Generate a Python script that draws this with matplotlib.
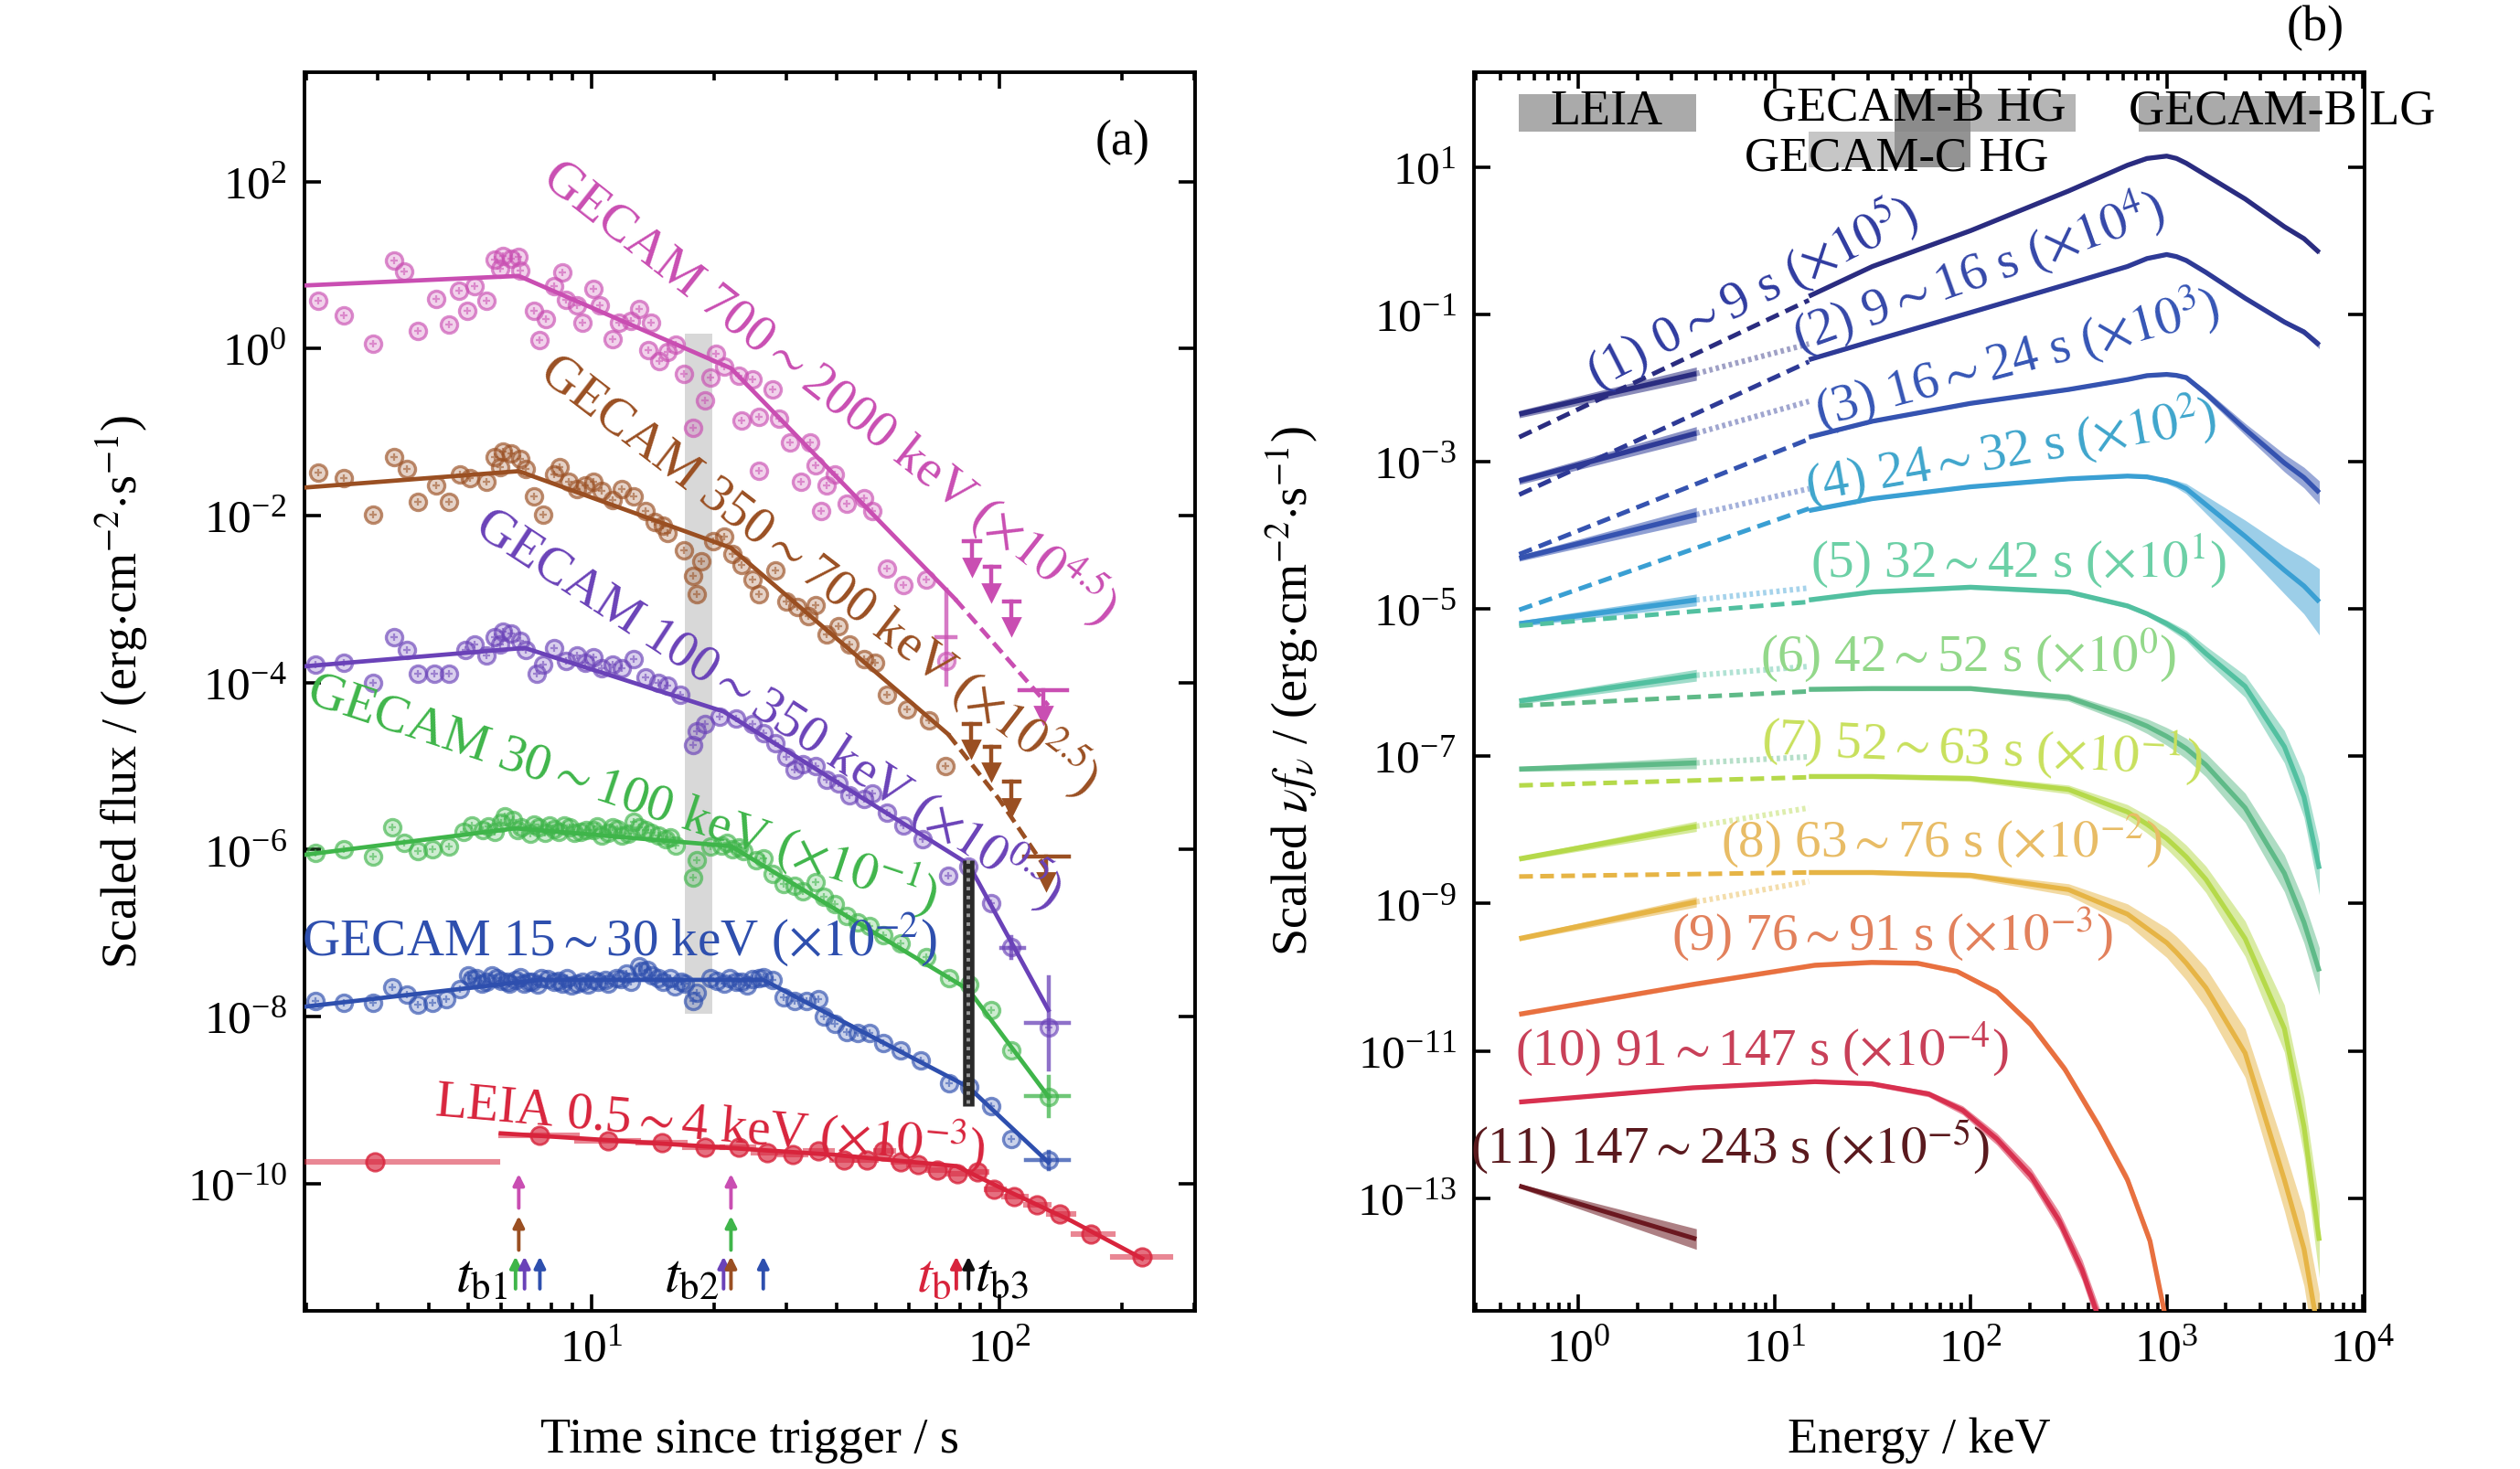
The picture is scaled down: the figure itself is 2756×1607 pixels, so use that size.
import numpy as np
import matplotlib.pyplot as plt
from matplotlib.ticker import NullLocator, NullFormatter, LogLocator
from matplotlib.colors import to_rgba

plt.rcParams['font.family'] = 'serif'
plt.rcParams['font.serif'] = ['Liberation Serif', 'DejaVu Serif']
plt.rcParams['mathtext.fontset'] = 'stix'
plt.rcParams['axes.linewidth'] = 1.4

# ---------------- panel (a): light curves (time in s, scaled flux) ----------------
mag_t = [2.14, 2.47, 2.92, 3.28, 3.47, 3.76, 4.16, 4.48, 4.73, 4.97, 5.18, 5.52, 5.79, 6.07, 6.37, 6.64,
         5.97, 6.68, 7.24, 7.73, 7.48, 8.11, 8.51, 8.65, 9.21, 9.51, 10.1, 10.5, 11.3, 11.7, 12.5, 13.1,
         14.0, 13.8, 14.7, 15.4, 16.1, 16.9, 17.8, 19.0, 19.6, 20.2, 21.2, 23.0, 23.3, 24.9, 25.7, 25.7,
         27.9, 28.8, 30.7, 32.7, 34.4, 35.5, 36.6, 37.8, 39.6, 42.3, 46.6, 48.9, 53.0, 58.2, 66.2, 74.1]
mag_f = [3.74, 2.51, 1.14, 11.2, 8.3, 1.62, 3.97, 1.92, 4.94, 2.86, 5.57, 3.74, 11.5, 12.7, 11.9, 12.4,
         9.0, 8.6, 2.86, 2.23, 1.25, 5.62, 8.1, 3.85, 3.32, 2.02, 5.2, 3.32, 1.29, 2.02, 2.12, 3.0,
         2.02, 0.95, 0.71, 0.91, 1.11, 0.50, 0.112, 0.237, 0.45, 0.865, 0.61, 0.476, 0.137, 0.43, 0.151, 0.034,
         0.32, 0.144, 0.0755, 0.0252, 0.0755, 0.0395, 0.0114, 0.0229, 0.0308, 0.0139, 0.0161, 0.0114,
         0.00231, 0.00148, 0.00171, 1.82e-4]
mag_ul_t = [85.7, 95.8, 107, 128]
mag_ul_f = [4.9e-3, 2.43e-3, 9.4e-4, 8.2e-5]
mag_ul_lo = [82, 92, 103, 112]
mag_ul_hi = [90, 100, 112, 147]

brn_t = [2.14, 2.47, 2.92, 3.28, 3.53, 3.76, 4.16, 4.48, 4.77, 5.05, 5.52, 5.79, 6.07, 6.37, 6.68, 5.97,
         6.90, 7.24, 7.60, 8.11, 8.38, 8.79, 9.21, 9.66, 10.1, 10.6, 11.3, 11.9, 12.7, 13.6, 14.3, 15.0,
         15.4, 16.9, 17.8, 18.1, 18.6, 19.9, 21.2, 22.2, 23.3, 24.9, 25.7, 28.2, 30.0, 32.0, 34.0, 35.4,
         37.8, 40.3, 43.0, 46.6, 49.6, 53.0, 59.4, 67.3, 73.7]
brn_f = [0.0324, 0.0279, 0.0103, 0.0507, 0.0357, 0.0146, 0.0229, 0.0146, 0.0308, 0.0279, 0.0252, 0.0507,
         0.0588, 0.056, 0.0482, 0.0376, 0.0357, 0.0169, 0.0103, 0.0308, 0.0376, 0.0252, 0.0207, 0.0229,
         0.0252, 0.0197, 0.0153, 0.0207, 0.0169, 0.0114, 0.00844, 0.00764, 0.00626, 0.0038, 0.00189,
         0.00115, 0.00282, 0.00488, 0.00566, 0.00344, 0.00255, 0.00171, 0.00115, 0.0022, 9.4e-4, 8.1e-4,
         6.3e-4, 8.5e-4, 3.8e-4, 4.7e-4, 2.86e-4, 1.92e-4, 1.73e-4, 7.1e-5, 4.75e-5, 3.56e-5, 1.0e-5]
brn_ul_t = [85.5, 95.7, 107, 130]
brn_ul_f = [3.2e-5, 1.7e-5, 6.5e-6, 8.3e-7]
brn_ul_lo = [82, 92, 103, 115]
brn_ul_hi = [90, 100, 112, 148]

pur_t = [2.11, 2.47, 2.92, 3.28, 3.53, 3.76, 4.13, 4.48, 4.91, 5.18, 5.52, 5.79, 6.07, 6.37, 6.68, 5.97,
         6.90, 7.36, 7.60, 8.11, 8.65, 9.21, 9.66, 10.1, 10.6, 11.3, 11.9, 12.7, 13.6, 14.6, 15.4, 16.5,
         17.8, 18.1, 19.0, 20.6, 22.6, 24.9, 26.5, 28.2, 30.0, 31.5, 33.0, 35.4, 37.8, 40.3, 43.0, 46.6,
         48.9, 53.0, 58.2, 65.0, 75.0, 84.0, 95.7, 107, 132]
pur_f = [1.65e-4, 1.73e-4, 1.0e-4, 3.48e-4, 2.46e-4, 1.29e-4, 1.29e-4, 1.29e-4, 2.46e-4, 2.85e-4, 2.12e-4,
         3.48e-4, 4.05e-4, 3.85e-4, 3.15e-4, 2.85e-4, 2.46e-4, 1.29e-4, 1.65e-4, 2.58e-4, 1.82e-4, 2.12e-4,
         1.73e-4, 2.01e-4, 1.49e-4, 1.65e-4, 1.49e-4, 1.92e-4, 1.16e-4, 1.0e-4, 9.1e-5, 7.1e-5, 1.79e-5,
         2.59e-5, 3.2e-5, 3.95e-5, 3.75e-5, 3.2e-5, 2.45e-5, 1.88e-5, 1.3e-5, 8.95e-6, 1.05e-5, 9.95e-6,
         6.87e-6, 6.18e-6, 4.5e-6, 4.05e-6, 4.74e-6, 2.79e-6, 1.93e-6, 1.33e-6, 4.85e-7, 6.3e-7, 2.31e-7,
         6.8e-8, 7.4e-9]

grn_t = [2.11, 2.47, 2.92, 3.25, 3.47, 3.76, 4.07, 4.48, 4.86, 5.09, 5.41, 5.79, 6.15, 6.44, 6.74, 7.07,
         7.42, 7.92, 8.31, 8.87, 9.43, 10.1, 10.6, 11.3, 11.9, 12.7, 13.6, 14.6, 15.2, 16.1, 17.8, 18.1,
         19.6, 20.9, 22.2, 23.6, 25.3, 26.5, 27.9, 29.6, 31.5, 33.0, 35.4, 37.1, 39.6, 42.3, 45.0, 48.0,
         52.0, 57.3, 66.2, 75.3, 84.3, 95.7, 107, 132,
         5.6, 6.0, 6.6, 7.25, 7.7, 8.1, 8.6, 9.1, 9.7, 10.35, 11.0, 11.6, 12.3, 13.1, 14.0, 15.6, 21.5, 23.0]
grn_f = [9.2e-7, 1.02e-6, 8.3e-7, 1.83e-6, 1.2e-6, 9.7e-7, 1.02e-6, 1.08e-6, 1.64e-6, 1.93e-6, 1.73e-6,
         1.64e-6, 2.51e-6, 2.26e-6, 1.83e-6, 1.56e-6, 1.83e-6, 1.93e-6, 1.64e-6, 1.83e-6, 1.64e-6, 1.73e-6,
         1.48e-6, 1.83e-6, 1.48e-6, 2.14e-6, 1.73e-6, 1.48e-6, 1.33e-6, 1.13e-6, 4.6e-7, 7.4e-7, 1.08e-6,
         1.13e-6, 1.02e-6, 9.7e-7, 7.4e-7, 7.8e-7, 5.1e-7, 3.9e-7, 3.7e-7, 3.2e-7, 4.1e-7, 2.7e-7, 2.2e-7,
         1.6e-7, 1.36e-7, 1.22e-7, 9.4e-8, 7.6e-8, 5.2e-8, 2.9e-8, 2.4e-8, 1.19e-8, 3.9e-9, 1.1e-9,
         1.9e-6, 2.1e-6, 1.7e-6, 2.0e-6, 1.6e-6, 1.75e-6, 1.95e-6, 1.6e-6, 1.7e-6, 1.9e-6, 1.6e-6,
         1.75e-6, 1.55e-6, 1.85e-6, 1.6e-6, 1.4e-6, 1.2e-6, 1.05e-6]

blu_t = [2.11, 2.47, 2.92, 3.25, 3.53, 3.76, 4.07, 4.41, 4.77, 5.00, 5.23, 5.52, 5.86, 6.22, 6.53, 6.84,
         7.18, 7.54, 8.11, 8.51, 8.93, 9.50, 10.1, 10.8, 11.5, 12.2, 13.1, 13.7, 14.6, 15.6, 16.6, 17.8,
         18.1, 19.6, 21.2, 22.6, 24.1, 25.7, 27.9, 29.6, 31.5, 33.7, 36.0, 37.1, 39.6, 42.3, 45.0, 48.0,
         52.0, 57.3, 64.2, 75.3, 84.3, 95.7, 107, 132,
         5.1, 5.4, 5.7, 6.0, 6.3, 6.7, 7.0, 7.4, 7.8, 8.3, 8.7, 9.2, 9.8, 10.4, 11.0, 11.8, 12.5, 13.3,
         14.1, 15.0, 16.0, 17.0, 20.3, 21.8, 23.3, 24.8, 26.5]
blu_f = [1.55e-8, 1.47e-8, 1.47e-8, 2.24e-8, 1.82e-8, 1.39e-8, 1.47e-8, 1.63e-8, 2.13e-8, 3.08e-8, 2.92e-8,
         2.63e-8, 2.92e-8, 2.63e-8, 2.77e-8, 2.49e-8, 2.63e-8, 2.92e-8, 2.63e-8, 2.49e-8, 2.37e-8, 2.63e-8,
         2.77e-8, 2.77e-8, 2.92e-8, 3.25e-8, 4.0e-8, 3.6e-8, 2.92e-8, 2.92e-8, 2.63e-8, 1.55e-8, 1.91e-8,
         2.92e-8, 2.49e-8, 2.63e-8, 2.37e-8, 2.92e-8, 2.77e-8, 1.72e-8, 1.55e-8, 1.55e-8, 1.63e-8, 1.01e-8,
         8.2e-9, 6.6e-9, 6.3e-9, 6.3e-9, 4.8e-9, 3.9e-9, 3.0e-9, 1.58e-9, 1.43e-9, 8.4e-10, 3.4e-10, 1.9e-10,
         2.8e-8, 2.5e-8, 3.1e-8, 2.7e-8, 2.5e-8, 3.0e-8, 2.6e-8, 2.4e-8, 2.8e-8, 2.7e-8, 2.9e-8, 2.5e-8,
         2.4e-8, 2.6e-8, 2.5e-8, 2.8e-8, 2.6e-8, 3.5e-8, 3.1e-8, 2.6e-8, 2.3e-8, 2.5e-8, 2.7e-8, 2.9e-8,
         2.6e-8, 2.8e-8, 3.0e-8]

# late GECAM bins with visible error bars (t, t_lo, t_hi, f_lo, f_hi)
late_pur = [(132, 116, 148, 2.3e-9, 3.0e-8), (107, 101, 115, 5.0e-8, 9.0e-8)]
late_grn = [(132, 116, 148, 6.5e-10, 1.9e-9)]
late_blu = [(132, 116, 148, 1.5e-10, 2.4e-10)]
late_mag = [(74.1, 70, 78, 9.5e-5, 1.3e-3)]

red_t = [2.95, 7.48, 11.0, 14.9, 19.0, 23.0, 27.0, 31.2, 36.0, 41.6, 47.3, 52.1, 57.3, 63.1, 70.6, 79.0,
         88.3, 97.3, 109, 124, 141, 168, 224]
red_f = [1.8e-10, 3.8e-10, 3.24e-10, 3.07e-10, 2.75e-10, 2.75e-10, 2.35e-10, 2.23e-10, 2.48e-10, 1.9e-10,
         1.9e-10, 2.48e-10, 1.8e-10, 1.71e-10, 1.46e-10, 1.31e-10, 1.38e-10, 8.6e-11, 6.95e-11, 5.6e-11,
         4.3e-11, 2.5e-11, 1.34e-11]
red_lo = [1.9, 6.0, 9.2, 13, 17, 21, 25, 29, 33.5, 39, 44.5, 50, 55, 60, 67, 75, 84, 93, 103, 116, 132, 152, 190]
red_hi = [5.9, 9.2, 13, 17, 21, 25, 29, 33.5, 39, 44.5, 50, 55, 60, 67, 75, 84, 93, 103, 116, 132, 152, 190, 263]

# broken power-law fits (nodes)
fit_mag_t, fit_mag_f = [2, 6.64, 22, 78], [5.7, 7.4, 0.58, 1.0e-3]
dash_mag_t, dash_mag_f = [78, 132], [1.0e-3, 5.3e-5]
fit_brn_t, fit_brn_f = [2, 6.64, 22, 75], [0.0217, 0.034, 4.1e-3, 2.4e-5]
dash_brn_t, dash_brn_f = [75, 100, 130], [2.4e-5, 4.0e-6, 6.0e-7]
fit_pur_t, fit_pur_f = [2, 6.86, 21.1, 84.1, 132], [1.57e-4, 2.6e-4, 4.5e-5, 6.7e-7, 1.2e-8]
fit_grn_t, fit_grn_f = [2, 6.52, 22, 84.1, 132], [8.7e-7, 1.8e-6, 1.1e-6, 2.1e-8, 1.1e-9]
fit_blu_t, fit_blu_f = [2, 7.48, 26.4, 84.1, 132], [1.32e-8, 2.75e-8, 2.75e-8, 1.43e-9, 1.8e-10]
fit_red_t = [6.0, 20, 40, 78.5, 100, 150, 224]
fit_red_f = [4.0e-10, 2.75e-10, 2.2e-10, 1.62e-10, 9.1e-11, 3.6e-11, 1.27e-11]

# break-time arrows: time, row (0 top .. 2 bottom), colour key
arrow_t = [6.64, 6.64, 6.52, 6.86, 7.48, 22.0, 22.0, 21.1, 22.0, 26.4, 78.5, 84.1]
arrow_row = [0, 1, 2, 2, 2, 0, 1, 2, 2, 2, 2, 2]
arrow_key = ['mag', 'brn', 'grn', 'pur', 'blu', 'mag', 'grn', 'pur', 'brn', 'blu', 'red', 'blk']
row_tail = [5.1e-11, 1.6e-11, 5.5e-12]
row_head = [1.31e-10, 4.1e-11, 1.34e-11]

col = {'mag': '#c94eb2', 'brn': '#9a4f22', 'pur': '#6a42b8', 'grn': '#3fb54a',
       'blu': '#2e4fae', 'red': '#d8243c', 'blk': '#111111'}

# ---------------- panel (b): spectra, log10 of scaled nuF_nu ----------------
leia_E = [0.5, 4.0]
bridge_E = [4.0, 15.0]
extrap_E = [0.5, 15.0]
leia_log = [[-2.354, -1.804], [-3.260, -2.613], [-4.311, -3.718], [-5.200, -4.877],
            [-6.25, -5.90], [-7.174, -7.090], [-8.394, -7.951], [-9.477, -8.977]]
leia_w = [[0.05, 0.09], [0.05, 0.09], [0.04, 0.10], [0.04, 0.08],
          [0.04, 0.08], [0.03, 0.08], [0.03, 0.07], [0.03, 0.07]]
bridge_log = [[-1.804, -1.40], [-2.613, -2.181], [-3.718, -3.367], [-4.877, -4.715],
              [-5.90, -5.78], [-7.090, -7.007], [-7.951, -7.701], [-8.977, -8.700]]
extrap_log = [[-2.667, -0.807], [-3.448, -1.642], [-4.257, -2.694], [-5.012, -3.637],
              [-5.227, -4.904], [-6.313, -6.119], [-7.396, -7.285], [-8.633, -8.578]]

gecam_E = [15, 31.6, 100, 316, 631, 794, 1000, 1122, 1259, 1585, 2512, 3981, 5012, 6000]
gecam_log = [
    [-0.753, -0.349, 0.137, 0.676, 1.026, 1.118, 1.150, 1.118, 1.053, 0.891, 0.568, 0.191, 0.029, -0.160],
    [-1.615, -1.362, -0.974, -0.586, -0.349, -0.241, -0.187, -0.215, -0.268, -0.429, -0.780, -1.103, -1.238,
     -1.416],
    [-2.667, -2.451, -2.208, -2.020, -1.885, -1.831, -1.815, -1.828, -1.858, -2.074, -2.559, -3.017, -3.216,
     -3.421],
    [-3.664, -3.502, -3.341, -3.233, -3.195, -3.206, -3.26, -3.305, -3.367, -3.583, -4.014, -4.473, -4.688,
     -4.904],
    [-4.877, -4.769, -4.704, -4.769, -4.958, -5.065, -5.200, -5.280, -5.362, -5.605, -6.05, -6.87, -7.55, -8.53],
    [-6.091, -6.080, -6.080, -6.202, -6.480, -6.591, -6.730, -6.810, -6.896, -7.118, -7.701, -8.589, -9.255,
     -9.921],
    [-7.274, -7.274, -7.301, -7.451, -7.756, -7.923, -8.117, -8.240, -8.367, -8.672, -9.477, -10.697, -12.03,
     -13.58],
    [-8.578, -8.578, -8.617, -8.811, -9.144, -9.338, -9.532, -9.665, -9.810, -10.143, -11.031, -12.751, -13.69,
     -14.9],
]
gecam_w = [
    [0.02, 0.02, 0.02, 0.02, 0.02, 0.02, 0.02, 0.02, 0.02, 0.02, 0.02, 0.02, 0.02, 0.02],
    [0.02, 0.02, 0.02, 0.02, 0.02, 0.02, 0.02, 0.02, 0.02, 0.02, 0.02, 0.03, 0.04, 0.05],
    [0.02, 0.02, 0.02, 0.02, 0.02, 0.02, 0.02, 0.025, 0.03, 0.05, 0.08, 0.12, 0.14, 0.16],
    [0.02, 0.02, 0.02, 0.02, 0.02, 0.02, 0.04, 0.05, 0.07, 0.12, 0.22, 0.32, 0.38, 0.45],
    [0.03, 0.03, 0.03, 0.03, 0.03, 0.03, 0.05, 0.06, 0.07, 0.10, 0.15, 0.22, 0.28, 0.35],
    [0.03, 0.03, 0.03, 0.05, 0.08, 0.10, 0.12, 0.13, 0.14, 0.16, 0.20, 0.25, 0.28, 0.32],
    [0.03, 0.03, 0.04, 0.06, 0.10, 0.12, 0.14, 0.15, 0.16, 0.18, 0.24, 0.32, 0.40, 0.50],
    [0.03, 0.03, 0.04, 0.08, 0.14, 0.17, 0.20, 0.22, 0.23, 0.27, 0.33, 0.42, 0.50, 0.60],
]
sp9_E = [0.5, 3.84, 16.1, 31.3, 53.5, 85.3, 136, 203, 303, 452, 631, 822, 1000]
sp9_log = [-10.503, -10.098, -9.837, -9.799, -9.810, -9.921, -10.198, -10.642, -11.252, -12.029,
           -12.751, -13.583, -14.7]
sp9_w = [0.03, 0.03, 0.03, 0.03, 0.03, 0.03, 0.04, 0.05, 0.06, 0.07, 0.08, 0.09, 0.10]
sp10_E = [0.5, 3.84, 16.1, 31.3, 61.1, 91.2, 136, 203, 283, 370, 460]
sp10_log = [-11.696, -11.502, -11.419, -11.447, -11.585, -11.807, -12.196, -12.695, -13.305, -13.972, -14.7]
sp10_w = [0.02, 0.02, 0.02, 0.03, 0.04, 0.06, 0.08, 0.10, 0.12, 0.14, 0.16]
sp11_E = [0.5, 4.0]
sp11_log = [-12.834, -13.556]
sp11_w = [0.03, 0.14]

sp_colors = ['#2a2c80', '#2e3a96', '#3553b0', '#3a9fd3', '#52c0a0', '#5fba88',
             '#b5d94a', '#e6b445', '#e8703f', '#d8304f', '#6b1820']
lab_colors = ['#2f3ba0', '#3447a8', '#3555b5', '#3ea5cc', '#6cd0a6', '#93d88a',
              '#c8e05c', '#e8bc66', '#e2815c', '#c84058', '#5a1a1e']
sp_labels = [r'(1) 0$\sim$9 s ($\times10^{5}$)', r'(2) 9$\sim$16 s ($\times10^{4}$)',
             r'(3) 16$\sim$24 s ($\times10^{3}$)', r'(4) 24$\sim$32 s ($\times10^{2}$)',
             r'(5) 32$\sim$42 s ($\times10^{1}$)', r'(6) 42$\sim$52 s ($\times10^{0}$)',
             r'(7) 52$\sim$63 s ($\times10^{-1}$)', r'(8) 63$\sim$76 s ($\times10^{-2}$)',
             r'(9) 76$\sim$91 s ($\times10^{-3}$)', r'(10) 91$\sim$147 s ($\times10^{-4}$)',
             r'(11) 147$\sim$243 s ($\times10^{-5}$)']
sp_lab_pos = [(0.312, 0.822, 27), (0.566, 0.839, 19.6), (0.610, 0.769, 14.9), (0.603, 0.694, 9.8),
              (0.612, 0.605, 0), (0.555, 0.529, 0), (0.570, 0.454, -2.8), (0.525, 0.379, 0),
              (0.470, 0.304, 0), (0.323, 0.211, 0), (0.287, 0.132, 0)]


fig = plt.figure(figsize=(13.78, 8.035), dpi=200)
ax1 = fig.add_axes([0.1208, 0.1077, 0.3534, 0.8432])
ax2 = fig.add_axes([0.5849, 0.1077, 0.3534, 0.8432])


def style_axis(ax, xticks, yticks, xlim, ylim):
    ax.set_xscale('log')
    ax.set_yscale('log')
    ax.set_xticks(xticks)
    ax.set_yticks(yticks)
    ax.xaxis.set_minor_locator(LogLocator(base=10, subs=(2, 3, 4, 5, 6, 7, 8, 9), numticks=20))
    ax.xaxis.set_minor_formatter(NullFormatter())
    ax.yaxis.set_minor_locator(NullLocator())
    ax.set_xlim(xlim)
    ax.set_ylim(ylim)
    ax.tick_params(which='both', direction='in', top=True, right=True, labelsize=18.5, width=1.3)
    ax.tick_params(which='major', length=6.5, pad=7)
    ax.tick_params(which='minor', length=3.2)


style_axis(ax1, [10, 100], [1e-10, 1e-8, 1e-6, 1e-4, 1e-2, 1e0, 1e2], (1.98, 302), (3.0e-12, 2.04e3))
style_axis(ax2, [1, 10, 100, 1000, 10000], [1e-13, 1e-11, 1e-9, 1e-7, 1e-5, 1e-3, 1e-1, 1e1],
           (0.294, 1.02e4), (2.95e-15, 195))

# ---- panel (a)
ax1.fill_between([17.0, 19.8], 1.07e-8, 1.5, color='#d8d8d8', lw=0, zorder=1)

for t, f, k in [(mag_t, mag_f, 'mag'), (brn_t, brn_f, 'brn'), (pur_t, pur_f, 'pur'),
                (grn_t, grn_f, 'grn'), (blu_t, blu_f, 'blu')]:
    c = col[k]
    ax1.plot(t, f, 'o', ms=6.5, mfc=to_rgba(c, 0.25), mec=to_rgba(c, 0.65), mew=1.2, ls='none', zorder=3)
    ax1.plot(t, f, '+', ms=3.0, color=c, alpha=0.55, mew=0.8, ls='none', zorder=3.1)

for pts, k in [(late_pur, 'pur'), (late_grn, 'grn'), (late_blu, 'blu'), (late_mag, 'mag')]:
    for t, tlo, thi, flo, fhi in pts:
        ax1.plot([tlo, thi], [np.sqrt(flo * fhi)] * 2, color=col[k], lw=1.6, alpha=0.75, zorder=3)
        ax1.plot([t, t], [flo, fhi], color=col[k], lw=1.6, alpha=0.75, zorder=3)

for t, f, lo, hi, k in [(mag_ul_t, mag_ul_f, mag_ul_lo, mag_ul_hi, 'mag'),
                        (brn_ul_t, brn_ul_f, brn_ul_lo, brn_ul_hi, 'brn')]:
    for ti, fi, a, b in zip(t, f, lo, hi):
        ax1.plot([a, b], [fi, fi], color=col[k], lw=1.6, zorder=3)
        ax1.plot([ti, ti], [fi, fi * 0.5], color=col[k], lw=1.6, zorder=3)
        ax1.plot([ti], [fi * 0.5], 'v', ms=6.5, color=col[k], zorder=3)

for fx, fy, k in [(fit_mag_t, fit_mag_f, 'mag'), (fit_brn_t, fit_brn_f, 'brn'), (fit_pur_t, fit_pur_f, 'pur'),
                  (fit_grn_t, fit_grn_f, 'grn'), (fit_blu_t, fit_blu_f, 'blu'), (fit_red_t, fit_red_f, 'red')]:
    ax1.plot(fx, fy, '-', color=col[k], lw=1.7, zorder=4)
ax1.plot(dash_mag_t, dash_mag_f, '--', color=col['mag'], lw=1.7, dashes=(3, 1.5), zorder=4)
ax1.plot(dash_brn_t, dash_brn_f, '--', color=col['brn'], lw=1.7, dashes=(3, 1.5), zorder=4)

for t, f, a, b in zip(red_t, red_f, red_lo, red_hi):
    ax1.plot([a, b], [f, f], color=col['red'], lw=2.2, alpha=0.55, zorder=3, clip_on=True)
ax1.plot(red_t, red_f, 'o', ms=7, mfc=to_rgba(col['red'], 0.65), mec=to_rgba(col['red'], 0.8),
         mew=1.0, ls='none', zorder=5)

ax1.plot([84.1, 84.1], [7.4e-7, 8.4e-10], color='#2a2a2a', lw=4.5, solid_capstyle='butt', zorder=6)
ax1.plot([84.1, 84.1], [7.4e-7, 8.4e-10], color='#9a9a9a', lw=1.4, ls=(0, (1, 1.5)), zorder=7)

for t, r, k in zip(arrow_t, arrow_row, arrow_key):
    ax1.annotate('', xy=(t, row_head[r]), xytext=(t, row_tail[r]),
                 arrowprops=dict(arrowstyle='-|>', color=col[k], lw=1.4, mutation_scale=9,
                                 shrinkA=0, shrinkB=0), zorder=6)

ax1.text(6.25, 7.4e-12, r'$t_{\mathrm{b1}}$', fontsize=22, ha='right', va='center')
ax1.text(20.6, 7.4e-12, r'$t_{\mathrm{b2}}$', fontsize=22, ha='right', va='center')
ax1.text(76.5, 7.4e-12, r'$t_{\mathrm{b}}$', fontsize=22, ha='right', va='center', color=col['red'])
ax1.text(87.0, 7.4e-12, r'$t_{\mathrm{b3}}$', fontsize=22, ha='left', va='center')

lc_labels = [(r'GECAM 700$\sim$2000 keV ($\times10^{4.5}$)', 'mag', 0.590, 0.743, -38.3),
             (r'GECAM 350$\sim$700 keV ($\times10^{2.5}$)', 'brn', 0.579, 0.595, -37.6),
             (r'GECAM 100$\sim$350 keV ($\times10^{0.5}$)', 'pur', 0.522, 0.487, -33.2),
             (r'GECAM 30$\sim$100 keV ($\times10^{-1}$)', 'grn', 0.357, 0.419, -18.5),
             (r'GECAM 15$\sim$30 keV ($\times10^{-2}$)', 'blu', 0.354, 0.299, 0),
             (r'LEIA 0.5$\sim$4 keV ($\times10^{-3}$)', 'red', 0.456, 0.150, -5.1)]
for s, k, x, y, rot in lc_labels:
    ax1.text(x, y, s, transform=ax1.transAxes, color=col[k], fontsize=20.5, rotation=rot,
             rotation_mode='anchor', ha='center', va='center', zorder=8)

ax1.text(0.919, 0.943, '(a)', transform=ax1.transAxes, fontsize=19.5, ha='center', va='center')
ax1.set_xlabel('Time since trigger / s', fontsize=19.5)
ax1.set_ylabel(r'Scaled flux / (erg$\cdot$cm$^{-2}$$\cdot$s$^{-1}$)', fontsize=19.5)
ax1.xaxis.set_label_coords(0.5, -0.086)
ax1.yaxis.set_label_coords(-0.172, 0.5)

# ---- panel (b)
grey = '#8e8e8e'
ax2.fill_between([0.5, 4.0], 10 ** 1.485, 10 ** 1.995, color=grey, alpha=0.75, lw=0, zorder=1)
ax2.fill_between([41, 344], 10 ** 1.485, 10 ** 1.995, color=grey, alpha=0.65, lw=0, zorder=1)
ax2.fill_between([15, 100], 10 ** 1.0, 10 ** 1.485, color=grey, alpha=0.5, lw=0, zorder=1)
ax2.fill_between([41, 100], 10 ** 1.0, 10 ** 1.995, color='#6a6a6a', alpha=0.55, lw=0, zorder=1)
ax2.fill_between([721, 6000], 10 ** 1.485, 10 ** 1.97, color=grey, alpha=0.75, lw=0, zorder=1)
ax2.text(1.4, 10 ** 1.74, 'LEIA', fontsize=19.5, ha='center', va='center', zorder=9)
ax2.text(0.494, 0.971, 'GECAM-B HG', transform=ax2.transAxes, fontsize=19, ha='center', va='center', zorder=9)
ax2.text(0.475, 0.930, 'GECAM-C HG', transform=ax2.transAxes, fontsize=19, ha='center', va='center', zorder=9)
ax2.text(0.907, 0.968, 'GECAM-B LG', transform=ax2.transAxes, fontsize=19.5, ha='center', va='center',
         zorder=9, clip_on=False)


def band(ax, E, logv, w, c, lw, a_band):
    v = np.array(logv)
    w = np.array(w)
    ax.fill_between(E, 10 ** (v - w), 10 ** (v + w), color=c, alpha=a_band, lw=0, zorder=2)
    ax.plot(E, 10 ** v, '-', color=c, lw=lw, zorder=3, solid_capstyle='butt')


for i in range(8):
    c = sp_colors[i]
    band(ax2, leia_E, leia_log[i], leia_w[i], c, 2.0, 0.55)
    ax2.plot(bridge_E, 10 ** np.array(bridge_log[i]), color=c, lw=2.2, alpha=0.45,
             ls=(0, (0.6, 0.6)), zorder=3)
    ax2.plot(extrap_E, 10 ** np.array(extrap_log[i]), color=c, lw=1.8, ls=(0, (3, 1.6)), zorder=3)
    band(ax2, gecam_E, gecam_log[i], gecam_w[i], c, 1.9, 0.5)

band(ax2, sp9_E, sp9_log, sp9_w, sp_colors[8], 1.9, 0.45)
band(ax2, sp10_E, sp10_log, sp10_w, sp_colors[9], 1.9, 0.55)
band(ax2, sp11_E, sp11_log, sp11_w, sp_colors[10], 1.8, 0.55)

for s, c, (x, y, rot) in zip(sp_labels, lab_colors, sp_lab_pos):
    ax2.text(x, y, s, transform=ax2.transAxes, color=c, fontsize=20.5, rotation=rot,
             rotation_mode='anchor', ha='center', va='center', zorder=8)

ax2.text(0.945, 1.035, '(b)', transform=ax2.transAxes, fontsize=19.5, ha='center', va='center')
ax2.set_xlabel('Energy / keV', fontsize=19.5)
ax2.set_ylabel(r'Scaled $\nu f_{\nu}$ / (erg$\cdot$cm$^{-2}$$\cdot$s$^{-1}$)', fontsize=19.5)
ax2.xaxis.set_label_coords(0.5, -0.086)
ax2.yaxis.set_label_coords(-0.171, 0.5)

fig.savefig('out.png', dpi=200)
